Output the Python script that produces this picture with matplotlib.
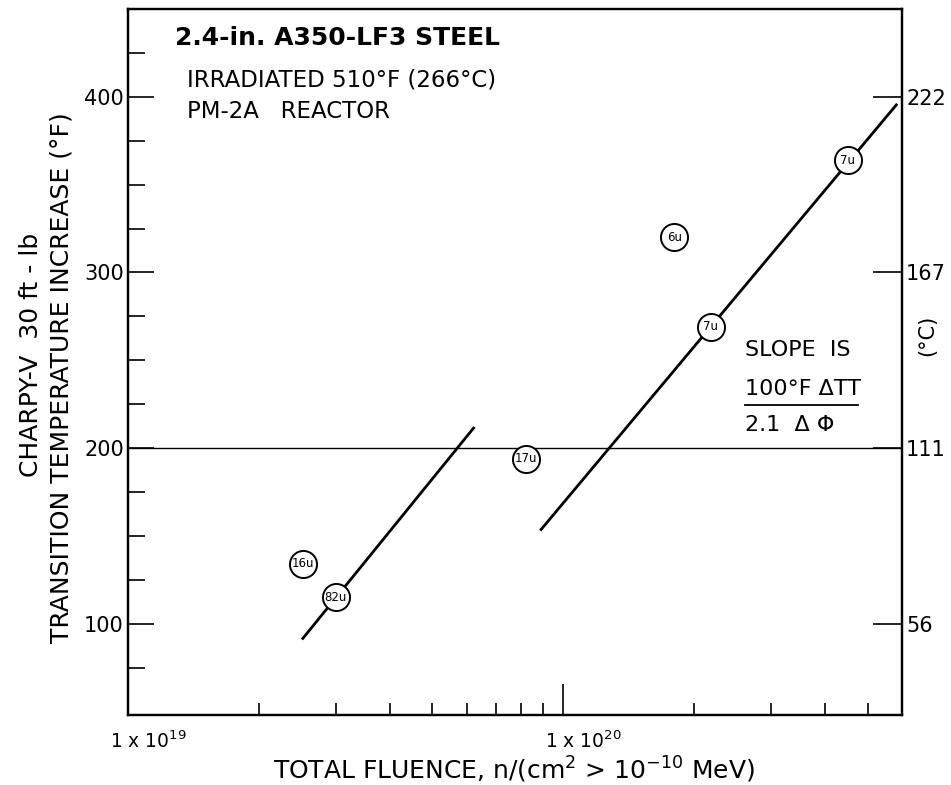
import matplotlib
matplotlib.use("Agg")
import matplotlib.pyplot as plt
from matplotlib.ticker import FixedLocator, NullFormatter, NullLocator
import matplotlib.transforms as mtransforms

plt.rcParams['font.family'] = ['DejaVu Sans']

# Irradiated specimen results: fluence (n/cm^2 > 1e-10 MeV), transition temperature increase (deg F)
fluence = [2.52e19, 3.0e19, 8.2e19, 1.8e20, 2.18e20, 4.5e20]
delta_tt = [134, 115, 194, 320, 269, 364]
point_labels = ["16u", "82u", "17u", "6u", "7u", "7u"]

# Trend lines (slope 100 F per factor of 2.1 in fluence)
lower_fit_x = [2.51e19, 6.25e19]
lower_fit_y = [91, 212]
upper_fit_x = [8.85e19, 5.85e20]
upper_fit_y = [153, 396]

reference_level = 200

# Axis ticks
x_major = [1e19, 1e20]
x_major_labels = [r"1 x 10$^{19}$", r"1 x 10$^{20}$"]
x_minor = [m * 1e19 for m in range(2, 10)] + [m * 1e20 for m in range(2, 7)]
y_major = [100, 200, 300, 400]
y_minor = [75, 125, 150, 175, 225, 250, 275, 325, 350, 375, 425]
c_ticks = [400, 300, 200, 100]
c_labels = ["222", "167", "111", "56"]

fig = plt.figure(figsize=(9.51, 7.85), dpi=100)
ax = fig.add_axes([128 / 951, 1 - 715 / 785, 774 / 951, 706 / 785])
ax.set_xscale("log")
ax.set_xlim(1e19, 6e20)
ax.set_ylim(48, 450)

for s in ax.spines.values():
    s.set_linewidth(1.6)

ax.axhline(reference_level, color="black", lw=1.0, zorder=1)

ax.plot(lower_fit_x, lower_fit_y, color="black", lw=2.0, solid_capstyle="butt", zorder=2)
ax.plot(upper_fit_x, upper_fit_y, color="black", lw=2.0, solid_capstyle="butt", zorder=2)

ax.plot(fluence, delta_tt, linestyle="none", marker="o", markersize=19.5,
        markerfacecolor="white", markeredgecolor="black", markeredgewidth=1.4, zorder=3)
for x, y, lab in zip(fluence, delta_tt, point_labels):
    ax.text(x, y, lab, ha="center", va="center", fontsize=8.5, zorder=4)

# x axis ticks
ax.xaxis.set_major_locator(FixedLocator(x_major))
ax.xaxis.set_minor_locator(FixedLocator(x_minor))
ax.xaxis.set_minor_formatter(NullFormatter())
ax.set_xticklabels(x_major_labels, fontsize=13.5)
ax.tick_params(axis="x", which="major", direction="in", length=22, width=1.2, pad=11,
               top=False)
ax.tick_params(axis="x", which="minor", direction="in", length=8.5, width=1.2, top=False)
for t in ax.xaxis.get_minor_ticks():
    if abs(t.get_loc() - 5e19) < 1e17 or abs(t.get_loc() - 5e20) < 1e18:
        t.tick1line.set_markersize(15)
offset = mtransforms.ScaledTranslation(20 / 100, 0, fig.dpi_scale_trans)
for lbl in ax.get_xticklabels():
    lbl.set_transform(lbl.get_transform() + offset)

# left y axis ticks
ax.yaxis.set_major_locator(FixedLocator(y_major))
ax.yaxis.set_minor_locator(FixedLocator(y_minor))
ax.tick_params(axis="y", which="major", direction="in", length=19, width=1.2,
               labelsize=15, pad=3, right=False)
ax.tick_params(axis="y", which="minor", direction="in", length=12, width=1.2, right=False)

# right axis in deg C
axr = ax.twinx()
axr.set_ylim(ax.get_ylim())
axr.yaxis.set_major_locator(FixedLocator(c_ticks))
axr.yaxis.set_minor_locator(NullLocator())
axr.set_yticklabels(c_labels)
axr.tick_params(axis="y", direction="in", length=21, width=1.2, labelsize=15, pad=3)
for s in axr.spines.values():
    s.set_linewidth(1.6)

# text
ax.text((175 - 128) / 774, (715 - 38) / 706, "2.4-in. A350-LF3 STEEL",
        transform=ax.transAxes, fontsize=18, fontweight="bold", ha="left", va="center")
ax.text((187 - 128) / 774, (715 - 80) / 706, "IRRADIATED 510°F (266°C)",
        transform=ax.transAxes, fontsize=16.5, ha="left", va="center")
ax.text((187 - 128) / 774, (715 - 112) / 706, "PM-2A   REACTOR",
        transform=ax.transAxes, fontsize=16.5, ha="left", va="center")

sx = (745 - 128) / 774
ax.text(sx, (715 - 350) / 706, "SLOPE  IS", transform=ax.transAxes,
        fontsize=16, ha="left", va="center")
ax.text(sx, (715 - 389) / 706, "100°F ΔTT", transform=ax.transAxes,
        fontsize=16, ha="left", va="center")
ax.plot([sx, (858 - 128) / 774], [(715 - 405) / 706] * 2, transform=ax.transAxes,
        color="black", lw=1.3)
ax.text(sx, (715 - 425) / 706, "2.1  Δ Φ", transform=ax.transAxes,
        fontsize=16, ha="left", va="center")

fig.text(514 / 951, 1 - 770 / 785, r"TOTAL FLUENCE, n/(cm$^2$ > 10$^{-10}$ MeV)",
         ha="center", va="center", fontsize=18)
fig.text(31 / 951, 1 - 355 / 785, "CHARPY-V  30 ft - lb", rotation=90,
         ha="center", va="center", fontsize=18)
fig.text(62 / 951, 1 - 378 / 785, "TRANSITION TEMPERATURE INCREASE (°F)", rotation=90,
         ha="center", va="center", fontsize=18)
fig.text(927 / 951, 1 - 335 / 785, "(°C)", rotation=90,
         ha="center", va="center", fontsize=15)

fig.savefig("out.png", dpi=100)
